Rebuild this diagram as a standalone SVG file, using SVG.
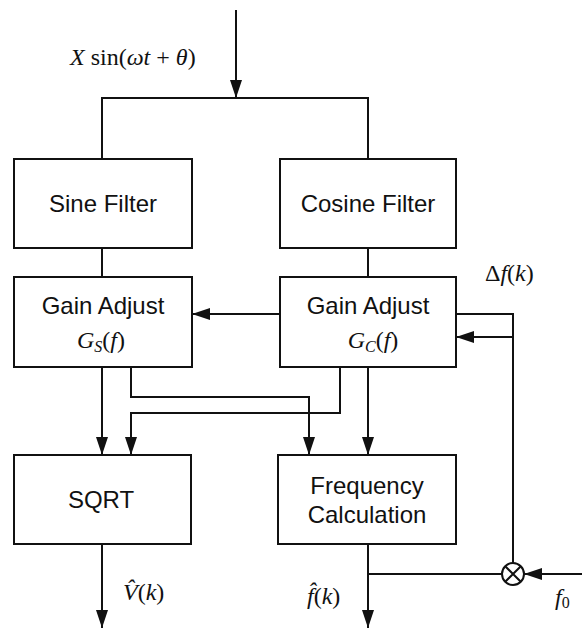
<svg xmlns="http://www.w3.org/2000/svg" width="582" height="630" viewBox="0 0 582 630">
<defs>
<marker id="ah" markerUnits="userSpaceOnUse" markerWidth="18" markerHeight="12" refX="18" refY="6" orient="auto">
<path d="M0,0 L18,6 L0,12 z" fill="#111"/>
</marker>
<style>
.box{fill:#fff;stroke:#111;stroke-width:2}
.ln{fill:none;stroke:#111;stroke-width:2}
.t{font-family:"Liberation Sans",Arial,sans-serif;font-size:24px;fill:#111;text-anchor:middle}
.m{font-family:"Liberation Serif","Times New Roman",serif;font-size:24px;fill:#111;font-style:italic}
.u{font-style:normal}
</style>
</defs>
<rect width="582" height="630" fill="#fff"/>
<g id="connectors">
<path class="ln" d="M236,10 V98" marker-end="url(#ah)"/>
<path class="ln" d="M102,159 V98 H368 V159"/>
<path class="ln" d="M102,248 V277"/>
<path class="ln" d="M368,248 V277"/>
<path class="ln" d="M280,314 H192" marker-end="url(#ah)"/>
<path class="ln" d="M456,314 H513 V563"/>
<path class="ln" d="M513,337 H456" marker-end="url(#ah)"/>
<path class="ln" d="M102,367 V455" marker-end="url(#ah)"/>
<path class="ln" d="M131,367 V397 H309 V455" marker-end="url(#ah)"/>
<path class="ln" d="M340,367 V413 H131 V455" marker-end="url(#ah)"/>
<path class="ln" d="M368,367 V455" marker-end="url(#ah)"/>
<path class="ln" d="M102,544 V628" marker-end="url(#ah)"/>
<path class="ln" d="M368,544 V628" marker-end="url(#ah)"/>
<path class="ln" d="M368,574 H502"/>
<path class="ln" d="M582,574 H524" marker-end="url(#ah)"/>
</g>
<g id="sine-filter">
<rect class="box" x="14" y="159" width="178" height="89"/>
<text class="t" x="103" y="212">Sine Filter</text>
</g>
<g id="cosine-filter">
<rect class="box" x="280" y="159" width="176" height="89"/>
<text class="t" x="368" y="212">Cosine Filter</text>
</g>
<g id="gain-s">
<rect class="box" x="14" y="277" width="178" height="90"/>
<text class="t" x="103" y="314">Gain Adjust</text>
<text class="m" x="101" y="348" text-anchor="middle">G<tspan font-size="16" dy="4">S</tspan><tspan class="u" dy="-4">(</tspan>f<tspan class="u">)</tspan></text>
</g>
<g id="gain-c">
<rect class="box" x="280" y="277" width="176" height="90"/>
<text class="t" x="368" y="314">Gain Adjust</text>
<text class="m" x="373" y="348" text-anchor="middle">G<tspan font-size="16" dy="4">C</tspan><tspan class="u" dy="-4">(</tspan>f<tspan class="u">)</tspan></text>
</g>
<g id="sqrt">
<rect class="box" x="14" y="455" width="177" height="89"/>
<text class="t" x="101" y="508">SQRT</text>
</g>
<g id="freq-calc">
<rect class="box" x="278" y="455" width="178" height="89"/>
<text class="t" x="367" y="494">Frequency</text>
<text class="t" x="367" y="523">Calculation</text>
</g>
<g id="summer">
<circle cx="513" cy="574" r="11" fill="#fff" stroke="#111" stroke-width="2"/>
<path class="ln" d="M505.2,566.2 L520.8,581.8 M520.8,566.2 L505.2,581.8" stroke-width="1.5"/>
</g>
<g id="labels">
<text class="m" x="70" y="65" font-size="26">X <tspan class="u">sin(</tspan>ωt <tspan class="u">+</tspan> θ<tspan class="u">)</tspan></text>
<text class="m" x="485" y="281"><tspan class="u">Δ</tspan>f<tspan class="u">(</tspan>k<tspan class="u">)</tspan></text>
<text class="m" x="123" y="600">V̂<tspan class="u">(</tspan>k<tspan class="u">)</tspan></text>
<text class="m" x="307" y="604">f̂<tspan class="u">(</tspan>k<tspan class="u">)</tspan></text>
<text class="m" x="555" y="605">f<tspan font-size="16" dy="3" class="u">0</tspan></text>
</g>
</svg>
